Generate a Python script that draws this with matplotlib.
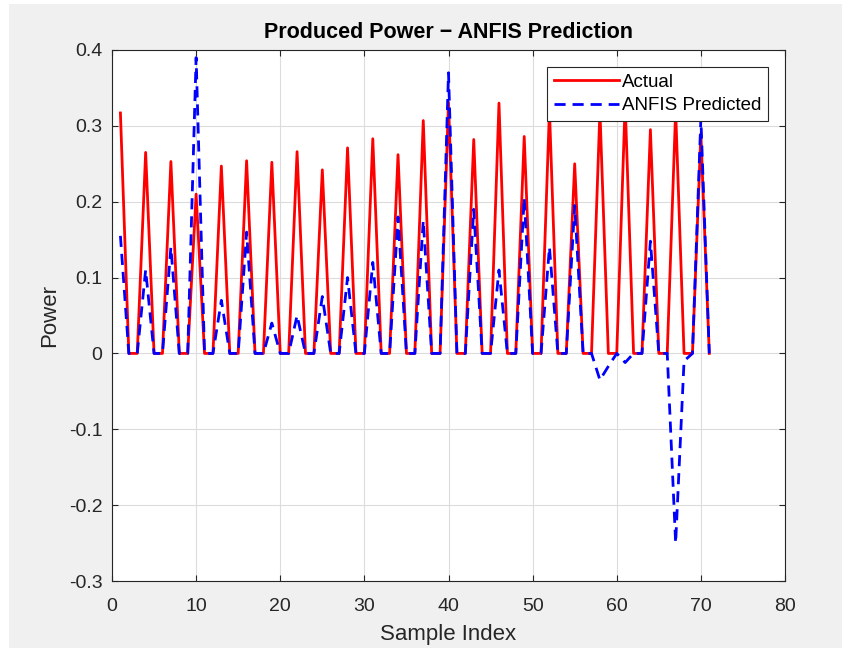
import matplotlib
matplotlib.use("Agg")
import matplotlib.pyplot as plt
from matplotlib.patches import Rectangle
import numpy as np

plt.rcParams['font.family'] = ['Liberation Sans', 'DejaVu Sans']

sample_index = list(range(1, 72))

actual_peaks = [0.317, 0.265, 0.253, 0.210, 0.247, 0.254, 0.252, 0.266, 0.242, 0.271,
                0.283, 0.262, 0.307, 0.331, 0.282, 0.330, 0.286, 0.321, 0.250, 0.320,
                0.330, 0.295, 0.320, 0.290]

actual = []
for p in actual_peaks:
    actual += [p, 0.0, 0.0]
actual = actual[:71]

predicted = [0.155, 0.0, 0.0, 0.110, 0.0, 0.0, 0.140, 0.0, 0.0, 0.390,
             0.0, 0.0, 0.070, 0.0, 0.0, 0.160, 0.0, 0.0, 0.040, 0.0,
             0.0, 0.050, 0.0, 0.0, 0.075, 0.0, 0.0, 0.100, 0.0, 0.0,
             0.120, 0.0, 0.0, 0.180, 0.0, 0.0, 0.175, 0.0, 0.0, 0.370,
             0.0, 0.0, 0.190, 0.0, 0.0, 0.110, 0.0, 0.0, 0.205, 0.0,
             0.0, 0.140, 0.0, 0.0, 0.195, 0.0, 0.0, -0.035, -0.017, 0.0,
             -0.012, 0.0, 0.0, 0.148, 0.0, 0.0, -0.250, -0.010, 0.0, 0.310,
             0.0]

x_ticks = [0, 10, 20, 30, 40, 50, 60, 70, 80]
y_ticks = [-0.3, -0.2, -0.1, 0.0, 0.1, 0.2, 0.3, 0.4]
y_tick_labels = ['-0.3', '-0.2', '-0.1', '0', '0.1', '0.2', '0.3', '0.4']

fig = plt.figure(figsize=(8.42, 6.5), dpi=100, facecolor='white')
fig.patches.append(Rectangle((9 / 842, 2 / 650), 1 - 9 / 842, 1 - 6 / 650,
                             transform=fig.transFigure, facecolor='#f0f0f0',
                             edgecolor='none', zorder=-10))
ax = fig.add_axes([112 / 842, 1 - 581 / 650, 673 / 842, 531 / 650])
ax.set_facecolor('white')

ax.plot(sample_index, actual, color='#ff0000', lw=2.0, label='Actual')
ax.plot(sample_index, predicted, color='#0000ff', lw=2.0, ls=(0, (4, 2.5)), label='ANFIS Predicted')

ax.set_xlim(0, 80)
ax.set_ylim(-0.3, 0.4)
ax.set_xticks(x_ticks)
ax.set_yticks(y_ticks)
ax.set_yticklabels(y_tick_labels)
ax.grid(True, color='#dcdcdc', lw=0.8)
ax.set_axisbelow(True)
ax.tick_params(direction='in', top=True, right=True, labelsize=14, colors='#262626', length=4)
ax.tick_params(axis='x', pad=12)
ax.tick_params(axis='y', pad=7)
for s in ax.spines.values():
    s.set_color('#262626')
    s.set_linewidth(0.8)

ax.set_xlabel('Sample Index', fontsize=16, color='#262626', labelpad=7)
ax.set_ylabel('Power', fontsize=16, color='#262626', labelpad=6)
ax.set_title('Produced Power \u2212 ANFIS Prediction', fontsize=15.5, fontweight='bold',
             color='black', pad=9)

leg = ax.legend(loc='upper right', bbox_to_anchor=(656 / 673, (581 - 67) / 531), fontsize=13.5,
                frameon=True, fancybox=False, edgecolor='#262626', framealpha=1,
                handlelength=3.5, borderpad=0.35, labelspacing=0.35, handletextpad=0.15,
                borderaxespad=0)
leg.get_frame().set_linewidth(0.8)

fig.savefig('out.png', dpi=100, facecolor=fig.get_facecolor())
